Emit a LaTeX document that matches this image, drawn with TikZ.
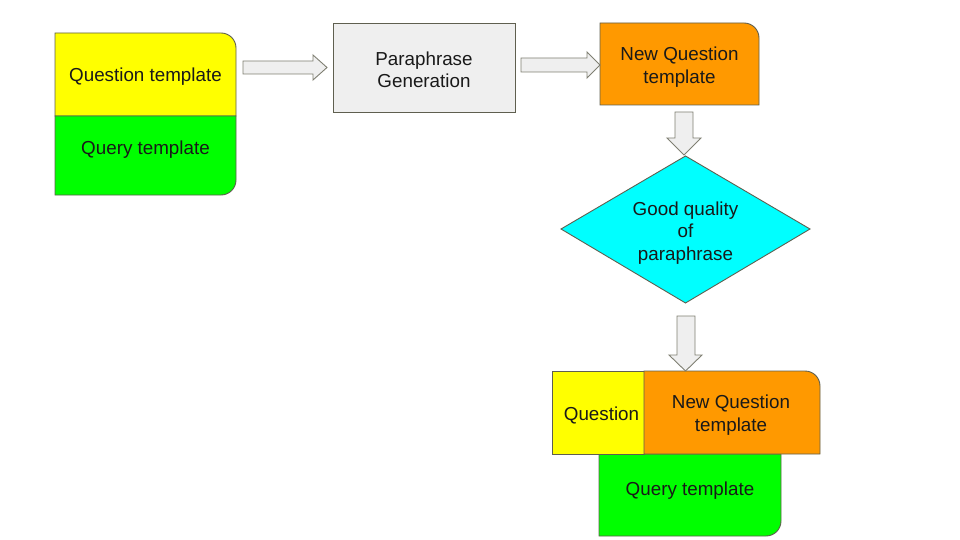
\documentclass[tikz,border=0pt]{standalone}
\usepackage{fontspec}
\setmainfont{Liberation Sans}
\usetikzlibrary{calc}
\definecolor{qyellow}{HTML}{FFFF00}
\definecolor{qgreen}{HTML}{00FF00}
\definecolor{qorange}{HTML}{FF9900}
\definecolor{qcyan}{HTML}{00FFFF}
\definecolor{qgray}{HTML}{EFEFEF}
\definecolor{qline}{HTML}{5F5F4F}
\tikzset{
  shapeline/.style={draw=qline, line width=0.9pt, line join=miter},
  fatarrow/.style={draw=qline!80, fill=qgray, line width=0.9pt, line join=miter},
  lbl/.style={font=\fontsize{18.8}{22.5}\selectfont, align=center, inner sep=0pt, text=black!90},
}
\begin{document}
\begin{tikzpicture}[x=1pt, y=-1pt]
\useasboundingbox (0,0) rectangle (960,540);
% --- top-left block
\path[shapeline, fill=qyellow] (55,116) -- (55,33) -- (221,33) .. controls (229.3,33) and (236,39.7) .. (236,48) -- (236,116) -- cycle;
\path[shapeline, fill=qgreen] (55,116) -- (55,195) -- (221,195) .. controls (229.3,195) and (236,188.3) .. (236,180) -- (236,116) -- cycle;
\node[lbl] (qt) at (145.5,76.5) {Question template};
\node[lbl] (qy) at (145.5,149.5) {Query template};
% --- paraphrase generation
\node[shapeline, fill=qgray, minimum width=182pt, minimum height=89pt, inner sep=0pt, lbl, anchor=north west] (pg) at (333,23) {};
\node[lbl] (pgt) at (424,70) {Paraphrase\\Generation};
% --- new question template
\path[shapeline, fill=qorange] (600,105) -- (600,23) -- (744,23) .. controls (752.3,23) and (759,29.7) .. (759,38) -- (759,105) -- cycle;
\node[lbl] (nq) at (679.5,67) {New Question\\template};
% --- diamond
\path[shapeline, fill=qcyan] (685.5,156) -- (810,229) -- (685.5,303) -- (561,229) -- cycle;
\node[lbl] (gq) at (685.5,233) {Good quality\\of\\paraphrase};
% --- bottom block
\path[shapeline, fill=qgreen] (599,454) -- (599,536) -- (766,536) .. controls (774.3,536) and (781,529.3) .. (781,521) -- (781,454) -- cycle;
\path[shapeline, fill=qyellow] (552,371) rectangle (644,454);
\path[shapeline, fill=qorange] (644,454) -- (644,371) -- (805,371) .. controls (813.3,371) and (820,377.7) .. (820,386) -- (820,454) -- cycle;
\node[lbl] (bq) at (601.5,415) {Question};
\node[lbl] (bn) at (731,415) {New Question\\template};
\node[lbl] (bqy) at (690,491) {Query template};
% --- fat arrows
\path[fatarrow] (243,61) -- (313,61) -- (313,55) -- (327,67.5) -- (313,80) -- (313,74) -- (243,74) -- cycle;
\path[fatarrow] (521,58) -- (587,58) -- (587,52) -- (600,65) -- (587,78) -- (587,72) -- (521,72) -- cycle;
\path[fatarrow] (675,112) -- (693,112) -- (693,138) -- (701,138) -- (684,155) -- (667,138) -- (675,138) -- cycle;
\path[fatarrow] (677,316) -- (695,316) -- (695,355) -- (702,355) -- (685.5,371) -- (669,355) -- (677,355) -- cycle;
\end{tikzpicture}
\end{document}
